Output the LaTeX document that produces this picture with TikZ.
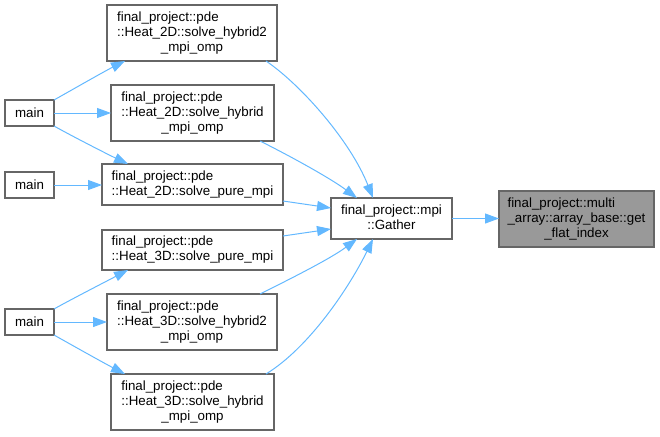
\documentclass[tikz,border=0pt]{standalone}
\usepackage{fontspec}
\setmainfont{Liberation Sans}
\usetikzlibrary{arrows.meta,calc}
\definecolor{edgeblue}{HTML}{63B8FF}
\definecolor{boxgray}{HTML}{666666}
\definecolor{hlgray}{HTML}{999999}
\newcommand\lbtxt[2]{\begin{tabular}{@{}l@{}}#1\\\multicolumn{1}{@{}c@{}}{#2}\end{tabular}}
\begin{document}
\begin{tikzpicture}[x=0.75pt,y=-0.75pt,
  box/.style={draw=boxgray, line width=0.8pt, fill=white, inner sep=0pt, outer sep=0pt,
    font=\fontsize{10}{11.25}\selectfont, text=black},
  wh/.style 2 args={minimum width=#1*0.75pt, minimum height=#2*0.75pt},
  hl/.style={fill=hlgray},
  edge/.style={draw=edgeblue, line width=0.75pt, -{Triangle[length=10.5pt,width=7.5pt]}}]
\useasboundingbox (0,0) rectangle (660,436);

\node[box, wh={49}{26}] (main1) at (29.5,113) {main};
\node[box, wh={49}{26}] (main2) at (29.5,185) {main};
\node[box, wh={49}{26}] (main3) at (29.5,322) {main};

\node[box, wh={170}{56}] (A) at (192,33) {\lbtxt{final\_project::pde\\::Heat\_2D::solve\_hybrid2}{\_mpi\_omp}};
\node[box, wh={163}{56}] (B) at (192.5,113) {\lbtxt{final\_project::pde\\::Heat\_2D::solve\_hybrid}{\_mpi\_omp}};
\node[box, wh={181}{41}] (C) at (192.5,184.5) {\lbtxt{final\_project::pde}{::Heat\_2D::solve\_pure\_mpi}};
\node[box, wh={181}{40}] (D) at (192.5,250) {\lbtxt{final\_project::pde}{::Heat\_3D::solve\_pure\_mpi}};
\node[box, wh={170}{56}] (E) at (192,322) {\lbtxt{final\_project::pde\\::Heat\_3D::solve\_hybrid2}{\_mpi\_omp}};
\node[box, wh={163}{56}] (F) at (192.5,402) {\lbtxt{final\_project::pde\\::Heat\_3D::solve\_hybrid}{\_mpi\_omp}};

\node[box, wh={121}{41}] (G) at (391.5,218.5) {\lbtxt{final\_project::mpi}{::Gather}};
\node[box, hl, wh={155}{56}] (H) at (576.5,219) {\lbtxt{final\_project::multi\\\_array::array\_base::get}{\_flat\_index}};

\draw[edge] (main1.north east) .. controls +(16,-9) and +(-20,10) .. ($(A.south west)+(18,0)$);
\draw[edge] (main1.east) -- (B.west);
\draw[edge] (main1.south east) .. controls +(16,9) and +(-23,-11) .. ($(C.north west)+(26,0)$);
\draw[edge] (main2.east) -- (main2.east -| C.west);
\draw[edge] (main3.north east) .. controls +(16,-9) and +(-23,12) .. ($(D.south west)+(26,0)$);
\draw[edge] (main3.east) -- (E.west);
\draw[edge] (main3.south east) .. controls +(16,9) and +(-23,-12) .. ($(F.north west)+(14,0)$);

\draw[edge] ($(A.south east)+(-11,0)$) .. controls +(34,23) and +(-23,-58) .. ($(G.north)+(-18.5,0)$);
\draw[edge] ($(B.south east)+(-14,0)$) .. controls +(30,15) and +(-27,-20) .. ($(G.north)+(-34.5,0)$);
\draw[edge] ($(C.east)+(0,16.5)$) -- ($(G.west)+(0,-10.5)$);
\draw[edge] ($(D.east)+(0,-14)$) -- ($(G.west)+(0,10.5)$);
\draw[edge] ($(E.north east)+(-17,0)$) .. controls +(30,-15) and +(-27,20) .. ($(G.south)+(-34.5,0)$);
\draw[edge] ($(F.north east)+(-8,0)$) .. controls +(44,-27) and +(-23,47) .. ($(G.south)+(-18.5,0)$);

\draw[edge] (G.east) -- (G.east -| H.west);
\end{tikzpicture}
\end{document}
